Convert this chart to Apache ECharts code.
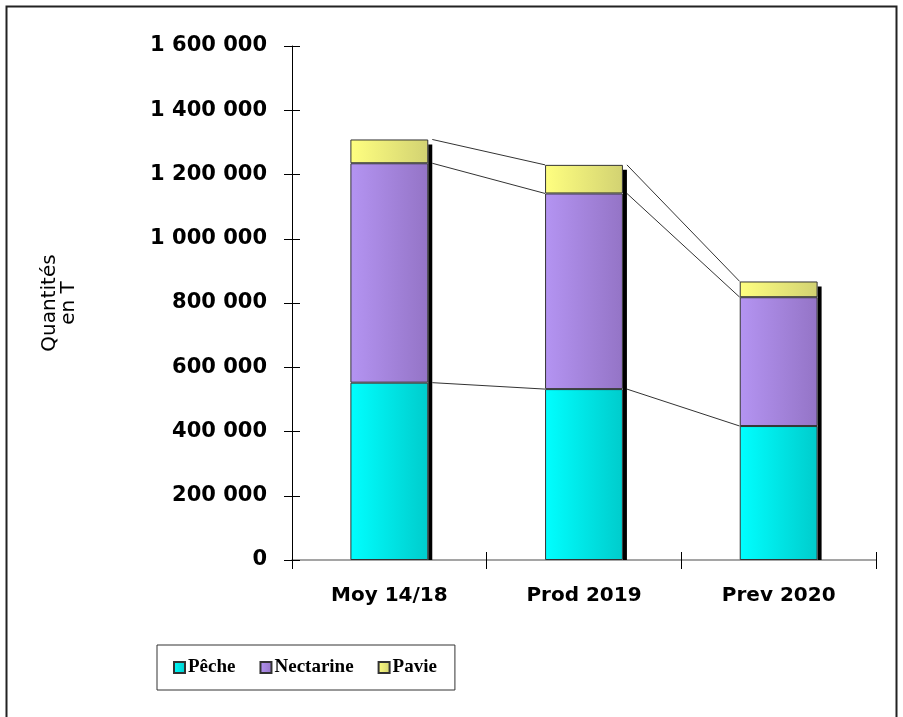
<!DOCTYPE html>
<html>
<head>
<meta charset="utf-8">
<script src="https://cdn.jsdelivr.net/npm/echarts@6/dist/echarts.min.js"></script>
<style>
  html, body { margin: 0; padding: 0; background: #fff; }
  #chart { width: 903px; height: 717px; }
</style>
</head>
<body>
<div id="chart"></div>
<script>
const categories = ['Moy 14/18', 'Prod 2019', 'Prev 2020'];
const peche = [552000, 532000, 417000];
const nectarine = [683000, 609000, 401000];
const pavie = [74000, 89000, 49000];
const yTicks = [0, 200000, 400000, 600000, 800000, 1000000, 1200000, 1400000, 1600000];

const seriesValues = [peche, nectarine, pavie];

// cumulative tops for each level of the stack
const levels = [];
let running = categories.map(() => 0);
seriesValues.forEach(vals => {
  running = running.map((r, i) => r + vals[i]);
  levels.push(running.slice());
});
const totals = levels[levels.length - 1];

// connector segments: [index, value at index, value at next index]
const connectors = [];
levels.forEach(lv => {
  for (let i = 0; i < lv.length - 1; i++) {
    connectors.push([i, lv[i], lv[i + 1]]);
  }
});

function grad(a, b) {
  return new echarts.graphic.LinearGradient(0, 0, 1, 0, [
    { offset: 0, color: a },
    { offset: 1, color: b }
  ]);
}

const labelFont = '"DejaVu Sans", sans-serif';

const chart = echarts.init(document.getElementById('chart'));
const option = {
  animation: false,
  backgroundColor: '#fff',
  graphic: [
    {
      type: 'rect',
      shape: { x: 6.5, y: 6.5, width: 890, height: 740 },
      style: { fill: 'none', stroke: '#222', lineWidth: 2 },
      z: 0
    }
  ],
  grid: { left: 292, right: 27, top: 46, bottom: 157 },
  legend: {
    left: 157,
    top: 645,
    padding: [13, 18, 13, 16],
    itemGap: 24,
    itemWidth: 11,
    itemHeight: 11,
    borderColor: '#333',
    borderWidth: 1,
    icon: 'rect',
    textStyle: {
      fontFamily: '"Liberation Serif", serif',
      fontWeight: 'bold',
      fontSize: 19,
      color: '#000',
      padding: [0, 0, 0, -2]
    },
    data: ['Pêche', 'Nectarine', 'Pavie']
  },
  xAxis: [
    {
      type: 'category',
      data: categories,
      axisLine: { lineStyle: { color: '#888', width: 1.5 } },
      axisTick: { show: true, length: 9, lineStyle: { color: '#000' } },
      axisLabel: {
        margin: 26,
        fontFamily: labelFont,
        fontWeight: 'bold',
        fontSize: 20,
        color: '#000'
      }
    },
    {
      type: 'category',
      position: 'bottom',
      data: categories,
      axisLine: { show: false },
      axisTick: { show: true, inside: true, length: 8, lineStyle: { color: '#000' } },
      axisLabel: { show: false }
    }
  ],
  yAxis: [
    {
      type: 'value',
      min: 0,
      max: 1600000,
      interval: 200000,
      name: 'Quantités\nen T',
      nameLocation: 'middle',
      nameRotate: 90,
      nameGap: 214,
      nameTextStyle: {
        fontFamily: '"DejaVu Sans", sans-serif',
        fontSize: 20,
        color: '#000',
        lineHeight: 19
      },
      axisLine: { show: true, lineStyle: { color: '#000' } },
      axisTick: { show: true, length: 8, lineStyle: { color: '#000' } },
      splitLine: { show: false },
      axisLabel: {
        margin: 25,
        fontFamily: labelFont,
        fontWeight: 'bold',
        fontSize: 21,
        color: '#000',
        formatter: v => yTicks.includes(v) ? String(v).replace(/\B(?=(\d{3})+(?!\d))/g, ' ') : ''
      }
    },
    {
      type: 'value',
      position: 'left',
      min: 0,
      max: 1600000,
      interval: 200000,
      axisLine: { show: false },
      axisTick: { show: true, inside: true, length: 8, lineStyle: { color: '#000' } },
      axisLabel: { show: false },
      splitLine: { show: false }
    }
  ],
  series: [
    {
      name: 'shadow',
      type: 'custom',
      z: 1,
      silent: true,
      data: totals.map((t, i) => [i, t]),
      renderItem: function (params, api) {
        const top = api.coord([api.value(0), api.value(1)]);
        const base = api.coord([api.value(0), 0]);
        const bw = api.size([1, 0])[0] * 0.4;
        return {
          type: 'rect',
          shape: { x: top[0] + bw / 2, y: top[1] + 5, width: 4, height: base[1] - top[1] - 5 },
          style: { fill: '#000' }
        };
      }
    },
    {
      name: 'Pêche',
      type: 'bar',
      stack: 'total',
      barWidth: '40%',
      z: 3,
      itemStyle: { color: grad('#00ffff', '#00cccc'), borderColor: '#333', borderWidth: 1 },
      data: peche
    },
    {
      name: 'Nectarine',
      type: 'bar',
      stack: 'total',
      z: 3,
      itemStyle: { color: grad('#b494f2', '#9474c6'), borderColor: '#333', borderWidth: 1 },
      data: nectarine
    },
    {
      name: 'Pavie',
      type: 'bar',
      stack: 'total',
      z: 3,
      itemStyle: { color: grad('#ffff80', '#d2d272'), borderColor: '#333', borderWidth: 1 },
      data: pavie
    },
    {
      name: 'connectors',
      type: 'custom',
      z: 2,
      silent: true,
      data: connectors,
      renderItem: function (params, api) {
        const i = api.value(0);
        const p1 = api.coord([i, api.value(1)]);
        const p2 = api.coord([i + 1, api.value(2)]);
        const bw = api.size([1, 0])[0] * 0.4;
        return {
          type: 'line',
          shape: { x1: p1[0] + bw / 2 + 4, y1: p1[1], x2: p2[0] - bw / 2, y2: p2[1] },
          style: { stroke: '#333', lineWidth: 1 }
        };
      }
    }
  ]
};
chart.setOption(option);
</script>
</body>
</html>
